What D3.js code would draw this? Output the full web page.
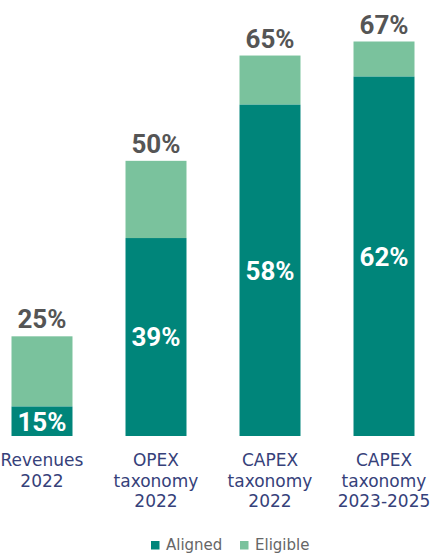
<!DOCTYPE html>
<html>
<head>
<meta charset="utf-8">
<script src="https://cdn.jsdelivr.net/npm/d3@7"></script>
<style>
  html, body { margin: 0; padding: 0; background: #ffffff; }
  svg { display: block; }
</style>
</head>
<body>
<div id="chart"></div>
<script>
// ---- data ----
const categories = [
  ["Revenues", "2022"],
  ["OPEX", "taxonomy", "2022"],
  ["CAPEX", "taxonomy", "2022"],
  ["CAPEX", "taxonomy", "2023-2025"]
];
const aligned = [15, 39, 58, 62];
const eligibleTotal = [25, 50, 65, 67];
const seriesNames = ["Aligned", "Eligible"];
const seriesColors = ["#00857a", "#7ac29d"];

// ---- layout ----
const W = 441, H = 556;
const svg = d3.select("#chart").append("svg").attr("width", W).attr("height", H);

const x = d3.scaleBand()
  .domain(d3.range(categories.length))
  .range([11.5, 414.5])
  .paddingInner(0.465)
  .paddingOuter(0);

// the source chart uses a truncated (non-zero based) vertical scale
const y = d3.scaleLinear().domain([10.8, 67]).range([436, 41.5]);
const base = y.range()[0];

const data = categories.map((c, i) => ({
  i, lines: c, aligned: aligned[i], total: eligibleTotal[i]
}));

const g = svg.append("g");

// eligible (upper) segment
g.selectAll("rect.elig").data(data).join("rect")
  .attr("class", "elig")
  .attr("x", d => x(d.i))
  .attr("width", x.bandwidth())
  .attr("y", d => y(d.total))
  .attr("height", d => y(d.aligned) - y(d.total))
  .attr("fill", seriesColors[1]);

// aligned (lower) segment
g.selectAll("rect.al").data(data).join("rect")
  .attr("class", "al")
  .attr("x", d => x(d.i))
  .attr("width", x.bandwidth())
  .attr("y", d => y(d.aligned))
  .attr("height", d => base - y(d.aligned))
  .attr("fill", seriesColors[0]);

// total labels
g.selectAll("text.tot").data(data).join("text")
  .attr("class", "tot")
  .attr("x", d => x(d.i) + x.bandwidth() / 2)
  .attr("y", d => y(d.total) - 8)
  .attr("text-anchor", "middle")
  .attr("font-family", "Roboto, 'Liberation Sans', sans-serif")
  .attr("font-weight", 700)
  .attr("font-size", 26)
  .attr("fill", "#555555")
  .text(d => d.total + "%");

// aligned labels (inside)
g.selectAll("text.inl").data(data).join("text")
  .attr("class", "inl")
  .attr("x", d => x(d.i) + x.bandwidth() / 2)
  .attr("y", d => (y(d.aligned) + base) / 2)
  .attr("dy", "0.36em")
  .attr("text-anchor", "middle")
  .attr("font-family", "Roboto, 'Liberation Sans', sans-serif")
  .attr("font-weight", 700)
  .attr("font-size", 26)
  .attr("fill", "#ffffff")
  .text(d => d.aligned + "%");

// category labels
const cat = g.selectAll("text.cat").data(data).join("text")
  .attr("class", "cat")
  .attr("text-anchor", "middle")
  .attr("font-family", "'DejaVu Sans', sans-serif")
  .attr("font-size", 17)
  .attr("fill", "#36417a");
cat.each(function(d) {
  const t = d3.select(this);
  d.lines.forEach((ln, k) => {
    t.append("tspan")
      .attr("x", x(d.i) + x.bandwidth() / 2)
      .attr("y", base + 30 + k * 20.5)
      .text(ln);
  });
});

// legend
const legendX = [151, 240];
const leg = svg.append("g");
seriesNames.forEach((name, k) => {
  leg.append("rect")
    .attr("x", legendX[k]).attr("y", 541)
    .attr("width", 8.5).attr("height", 8.5)
    .attr("fill", seriesColors[k]);
  leg.append("text")
    .attr("x", legendX[k] + 15).attr("y", 549.5)
    .attr("font-family", "'DejaVu Sans', sans-serif")
    .attr("font-size", 15)
    .attr("fill", "#666666")
    .text(name);
});
</script>
</body>
</html>
